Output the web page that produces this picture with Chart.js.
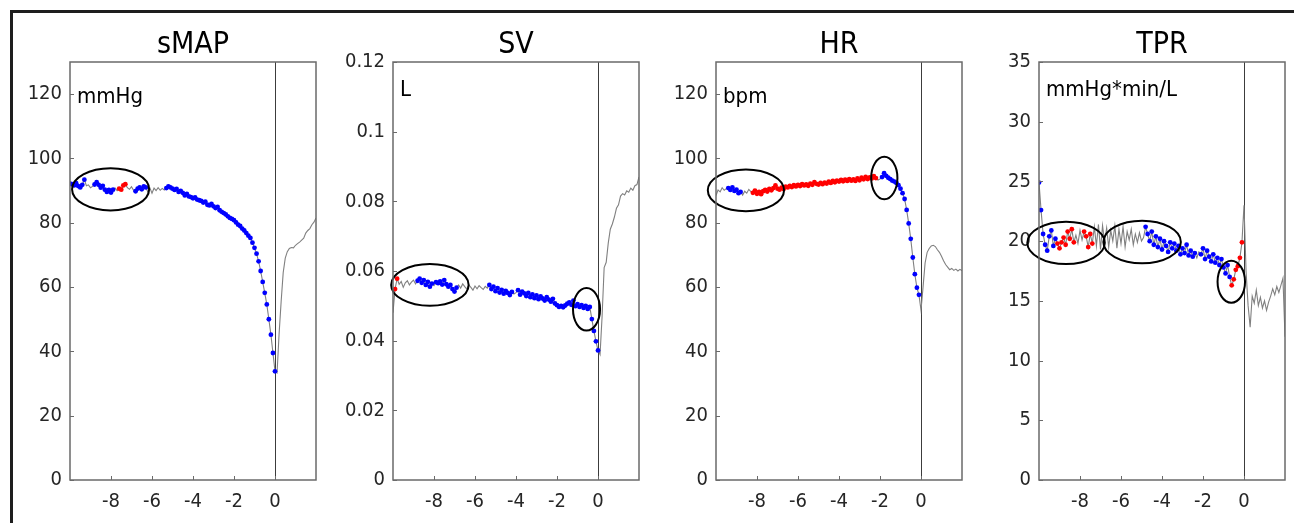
<!DOCTYPE html>
<html>
<head>
<meta charset="utf-8">
<title>sMAP, SV, HR, TPR</title>
<script src="https://cdn.jsdelivr.net/npm/chart.js@4.4.1/dist/chart.umd.min.js"></script>
<style>
    html, body { margin: 0; padding: 0; background: #fff; overflow: hidden; }
    #wrap { position: relative; width: 1294px; height: 523px; overflow: hidden; }
    #frame {
        position: absolute; left: 10px; top: 10px;
        width: 1320px; height: 600px;
        border: 3px solid #1e1e1e; box-sizing: border-box;
    }
    canvas { position: absolute; top: 0; }
</style>
</head>
<body>
<div id="wrap">
    <div id="frame"></div>
    <canvas id="chartSmap" width="386" height="523"></canvas>
    <canvas id="chartSv" width="386" height="523"></canvas>
    <canvas id="chartHr" width="386" height="523"></canvas>
    <canvas id="chartTpr" width="386" height="523"></canvas>
</div>
<script>
// Sampling grid: minutes relative to the event, -10 .. 2 every 0.1 min
const tStart = -10;
const tStep = 0.1;
const xTicks = [-8, -6, -4, -2, 0];

// sMAP (mmHg)
const smapValues = [
    92.2, 92.0, 91.6, 92.3, 91.4, 91.0, 91.8, 93.4, 91.5, 91.8,
    90.9, 91.3, 91.9, 92.6, 91.8, 90.9, 91.5, 90.3, 89.6, 90.2,
    89.4, 90.3, 90.8, 90.0, 90.6, 90.3, 91.6, 92.0, 90.9, 90.4,
    91.2, 90.1, 89.8, 90.6, 91.0, 90.4, 91.3, 91.0, 89.5, 90.8,
    89.2, 90.8, 90.0, 90.9, 90.1, 90.7, 90.2, 90.8, 91.3, 91.0,
    90.6, 90.2, 90.5, 89.6, 89.9, 89.3, 88.5, 89.0, 88.2, 88.0,
    87.6, 87.9, 87.2, 87.0, 86.8, 86.3, 86.6, 85.6, 85.4, 85.9,
    85.1, 84.6, 84.9, 83.9, 83.4, 83.0, 82.6, 82.0, 81.5, 81.2,
    80.8, 80.1, 79.4, 79.0, 78.2, 77.6, 76.8, 76.0, 75.3, 73.8,
    72.2, 70.4, 68.0, 65.0, 61.6, 58.2, 54.6, 50.0, 45.2, 39.5,
    33.8, 33.3, 45.5, 55.5, 64.5, 69.0, 71.0, 72.0, 72.3, 72.2,
    73.0, 73.5, 74.0, 74.6, 75.2, 76.8, 77.6, 78.2, 79.4, 80.2, 81.5
];
const smapBlue = [[-10, -9.3], [-8.8, -7.9], [-6.8, -6.3], [-5.3, 0]];
const smapRed = [[-7.6, -7.3]];
const smapTicks = [0, 20, 40, 60, 80, 100, 120];
const smapRings = [[-8.02, 90.4, 1.88, 6.55]];

// SV (L)
const svValues = [
    0.0480, 0.0548, 0.0578, 0.0562, 0.0570, 0.0553, 0.0566, 0.0572, 0.0560, 0.0568,
    0.0574, 0.0563, 0.0572, 0.0578, 0.0566, 0.0574, 0.0560, 0.0569, 0.0555, 0.0564,
    0.0558, 0.0568, 0.0565, 0.0570, 0.0561, 0.0574, 0.0562, 0.0555, 0.0560, 0.0548,
    0.0541, 0.0552, 0.0560, 0.0551, 0.0563, 0.0555, 0.0548, 0.0560, 0.0553, 0.0545,
    0.0557, 0.0549, 0.0558, 0.0552, 0.0547, 0.0556, 0.0551, 0.0560, 0.0548, 0.0555,
    0.0542, 0.0551, 0.0538, 0.0546, 0.0535, 0.0543, 0.0537, 0.0531, 0.0540, 0.0534,
    0.0538, 0.0545, 0.0532, 0.0541, 0.0536, 0.0528, 0.0537, 0.0525, 0.0533, 0.0522,
    0.0530, 0.0519, 0.0527, 0.0521, 0.0515, 0.0525, 0.0518, 0.0512, 0.0520, 0.0507,
    0.0502, 0.0497, 0.0500, 0.0496, 0.0501, 0.0506, 0.0510, 0.0503, 0.0515, 0.0499,
    0.0505, 0.0497, 0.0502, 0.0494, 0.0500, 0.0491, 0.0497, 0.0462, 0.0428, 0.0398,
    0.0372, 0.0360, 0.0470, 0.0610, 0.0625, 0.0680, 0.0720, 0.0735, 0.0755, 0.0780,
    0.0790, 0.0815, 0.0822, 0.0818, 0.0830, 0.0826, 0.0838, 0.0832, 0.0845, 0.0848, 0.0870
];
const svBlue = [[-8.8, -8.1], [-7.9, -6.9], [-5.3, -4.2], [-3.9, 0]];
const svRed = [[-9.9, -9.8]];
const svTicks = [0, 0.02, 0.04, 0.06, 0.08, 0.1, 0.12];
const svRings = [[-8.2, 0.0560, 1.89, 0.0060], [-0.56, 0.0490, 0.66, 0.0061]];

// HR (bpm)
const hrValues = [
    88.5, 90.2, 89.6, 90.9, 90.1, 90.6, 90.8, 90.2, 91.0, 89.9,
    90.3, 89.2, 89.6, 88.6, 89.8, 89.2, 90.4, 89.7, 89.3, 90.0,
    89.0, 89.6, 88.9, 89.8, 90.2, 89.7, 90.5, 90.1, 90.8, 91.6,
    90.6, 90.3, 90.9, 90.5, 91.2, 91.0, 91.5, 91.1, 91.7, 91.3,
    91.8, 91.4, 92.0, 91.6, 91.9, 91.5, 92.2, 91.8, 92.6, 92.1,
    91.9, 92.4, 92.0, 92.5, 92.2, 92.8, 92.4, 93.0, 92.6, 93.1,
    92.8, 93.3, 92.9, 93.4, 93.0, 93.6, 93.1, 93.5, 93.0, 93.8,
    93.2, 94.0, 93.5, 94.3, 93.6, 94.1, 93.8, 94.5, 93.9, 93.3,
    93.6, 94.2, 95.4, 94.6, 94.0, 93.6, 93.1, 92.8, 92.4, 91.7,
    90.6, 89.2, 87.4, 84.0, 79.8, 75.0, 69.2, 64.0, 59.8, 57.6,
    52.8, 60.0, 67.5, 70.8, 72.0, 72.8, 73.0, 72.6, 71.6, 70.8,
    69.6, 68.2, 67.0, 66.2, 65.4, 65.8, 65.2, 65.6, 65.0, 65.5, 65.1
];
const hrBlue = [[-9.4, -8.8], [-1.9, -0.1]];
const hrRed = [[-8.2, -2.2]];
const hrTicks = [0, 20, 40, 60, 80, 100, 120];
const hrRings = [[-8.54, 90.1, 1.86, 6.5], [-1.79, 93.9, 0.64, 6.6]];

// TPR (mmHg*min/L)
const tprValues = [
    24.9, 22.6, 20.6, 19.7, 19.2, 20.4, 20.9, 19.6, 20.2, 19.8,
    19.4, 19.9, 20.3, 19.7, 20.8, 20.2, 21.0, 19.9, 20.5, 19.8,
    20.9, 20.1, 20.8, 20.4, 19.5, 20.6, 19.8, 21.2, 19.6, 21.4,
    19.3, 21.3, 19.9, 21.1, 19.5, 20.9, 20.0, 21.3, 19.4, 21.0,
    19.8, 21.2, 19.5, 20.8, 20.1, 21.0, 19.7, 20.6, 19.9, 20.7,
    20.0, 20.3, 21.2, 20.6, 20.0, 20.8, 19.7, 20.4, 19.5, 20.2,
    19.3, 20.0, 19.6, 19.1, 19.9, 19.4, 19.8, 19.2, 19.6, 18.9,
    19.4, 19.0, 19.7, 18.8, 19.2, 18.7, 19.0, 18.6, 19.1, 18.9,
    19.4, 18.5, 19.2, 18.7, 18.3, 18.9, 18.2, 18.6, 18.0, 18.5,
    17.8, 17.3, 18.0, 17.0, 16.3, 16.8, 17.6, 17.9, 18.6, 19.9,
    23.0, 17.5, 14.6, 12.8, 15.4, 14.8, 15.9, 14.6, 15.3, 14.4,
    15.0, 14.2, 14.9, 15.4, 16.0, 15.5, 16.2, 15.7, 16.3, 16.9, 12.0
];
const tprBlue = [[-10, -9.2], [-4.8, -2.4], [-2.1, -0.7]];
const tprRed = [[-9.1, -8.3], [-7.8, -7.4], [-0.6, -0.1]];
const tprTicks = [0, 5, 10, 15, 20, 25, 30, 35];
const tprRings = [[-8.68, 19.86, 1.89, 1.77], [-4.97, 19.93, 1.89, 1.78], [-0.62, 16.6, 0.67, 1.76]];

const FONT = '"DejaVu Sans Condensed", "DejaVu Sans", sans-serif';
const PLOT_TOP = 62;
const PLOT_BOTTOM = 480;
const Y_AXIS_W = 70;

Chart.defaults.font.family = FONT;

function inRanges(t, ranges) {
    return ranges.some(r => t >= r[0] - 1e-6 && t <= r[1] + 1e-6);
}

function toPoints(values) {
    return values.map((v, i) => ({ x: Math.round((tStart + i * tStep) * 10) / 10, y: v }));
}

// Box, inward ticks, zero line, ellipses, unit and title for each panel
const panelDecor = {
    id: 'panelDecor',
    beforeDatasetsDraw(chart) {
        const { ctx, chartArea: a, scales: { x } } = chart;
        ctx.save();
        // event marker at t = 0
        const x0 = Math.round(x.getPixelForValue(0)) + 0.5;
        ctx.strokeStyle = '#3c3c3c';
        ctx.lineWidth = 1;
        ctx.beginPath();
        ctx.moveTo(x0, a.top);
        ctx.lineTo(x0, a.bottom);
        ctx.stroke();
        ctx.restore();
    },
    afterDatasetsDraw(chart, args, opts) {
        const { ctx, chartArea: a, scales: { x, y } } = chart;
        ctx.save();
        ctx.strokeStyle = '#000';
        ctx.lineWidth = 2;
        opts.rings.forEach(([cx, cy, rx, ry]) => {
            const px = x.getPixelForValue(cx);
            const py = y.getPixelForValue(cy);
            const rpx = Math.abs(x.getPixelForValue(cx + rx) - px);
            const rpy = Math.abs(y.getPixelForValue(cy + ry) - py);
            ctx.beginPath();
            ctx.ellipse(px, py, rpx, rpy, 0, 0, Math.PI * 2);
            ctx.stroke();
        });

        // axes box with ticks pointing inward
        ctx.strokeStyle = '#6a6a6a';
        ctx.lineWidth = 1.5;
        ctx.strokeRect(a.left, a.top, a.right - a.left, a.bottom - a.top);
        ctx.lineWidth = 1;
        ctx.beginPath();
        x.ticks.forEach(t => {
            const px = Math.round(x.getPixelForValue(t.value)) + 0.5;
            ctx.moveTo(px, a.bottom);
            ctx.lineTo(px, a.bottom - 4);
        });
        y.ticks.forEach(t => {
            const py = Math.round(y.getPixelForValue(t.value)) + 0.5;
            ctx.moveTo(a.left, py);
            ctx.lineTo(a.left + 4, py);
        });
        ctx.stroke();

        // unit label in the top-left corner
        ctx.fillStyle = '#000';
        ctx.font = '22px ' + FONT;
        ctx.textAlign = 'left';
        ctx.textBaseline = 'alphabetic';
        ctx.fillText(opts.unit, a.left + 7, y.getPixelForValue(opts.unitAt));

        // panel title
        ctx.font = '30px ' + FONT;
        ctx.textAlign = 'center';
        ctx.fillText(opts.title, (a.left + a.right) / 2, 53);
        ctx.restore();
    }
};

function makePanel(canvasId, left, p) {
    const canvas = document.getElementById(canvasId);
    canvas.style.left = (left - Y_AXIS_W) + 'px';

    const gray = toPoints(p.values);
    const blue = gray.filter(pt => inRanges(pt.x, p.blue));
    const red = gray.filter(pt => inRanges(pt.x, p.red));

    return new Chart(canvas, {
        type: 'scatter',
        data: {
            datasets: [
                { data: red, pointRadius: 2.4, pointBackgroundColor: '#ff0000', pointBorderWidth: 0, order: 0 },
                { data: blue, pointRadius: 2.4, pointBackgroundColor: '#0000ff', pointBorderWidth: 0, order: 1 },
                { data: gray, showLine: true, pointRadius: 0, borderColor: '#808080', borderWidth: 1.1, order: 2 }
            ]
        },
        options: {
            responsive: false,
            animation: false,
            events: [],
            layout: { padding: { top: PLOT_TOP, right: Y_AXIS_W, left: 0, bottom: 0 } },
            plugins: {
                legend: { display: false },
                tooltip: { enabled: false },
                panelDecor: { rings: p.rings, unit: p.unit, unitAt: p.unitAt, title: p.title }
            },
            scales: {
                x: {
                    type: 'linear',
                    min: -10,
                    max: 2,
                    afterBuildTicks: s => { s.ticks = xTicks.map(v => ({ value: v })); },
                    afterFit: s => { s.height = 523 - PLOT_BOTTOM; },
                    grid: { display: false, drawTicks: false },
                    border: { display: false },
                    ticks: {
                        color: '#262626',
                        font: { size: 20 },
                        padding: 10,
                        maxRotation: 0,
                        callback: v => String(v)
                    }
                },
                y: {
                    type: 'linear',
                    min: 0,
                    max: p.yMax,
                    afterBuildTicks: s => { s.ticks = p.ticks.map(v => ({ value: v })); },
                    afterFit: s => { s.width = Y_AXIS_W; },
                    grid: { display: false, drawTicks: false },
                    border: { display: false },
                    ticks: {
                        color: '#262626',
                        font: { size: 20 },
                        padding: 8,
                        callback: v => String(Math.round(v * 1000) / 1000)
                    }
                }
            }
        },
        plugins: [panelDecor]
    });
}

document.addEventListener('DOMContentLoaded', function() {
    makePanel('chartSmap', 70, {
        title: 'sMAP', unit: 'mmHg', unitAt: 117.2, yMax: 130,
        values: smapValues, blue: smapBlue, red: smapRed, ticks: smapTicks, rings: smapRings
    });
    makePanel('chartSv', 393, {
        title: 'SV', unit: 'L', unitAt: 0.1102, yMax: 0.12,
        values: svValues, blue: svBlue, red: svRed, ticks: svTicks, rings: svRings
    });
    makePanel('chartHr', 716, {
        title: 'HR', unit: 'bpm', unitAt: 117.2, yMax: 130,
        values: hrValues, blue: hrBlue, red: hrRed, ticks: hrTicks, rings: hrRings
    });
    makePanel('chartTpr', 1039, {
        title: 'TPR', unit: 'mmHg*min/L', unitAt: 32.15, yMax: 35,
        values: tprValues, blue: tprBlue, red: tprRed, ticks: tprTicks, rings: tprRings
    });
});
</script>
</body>
</html>
